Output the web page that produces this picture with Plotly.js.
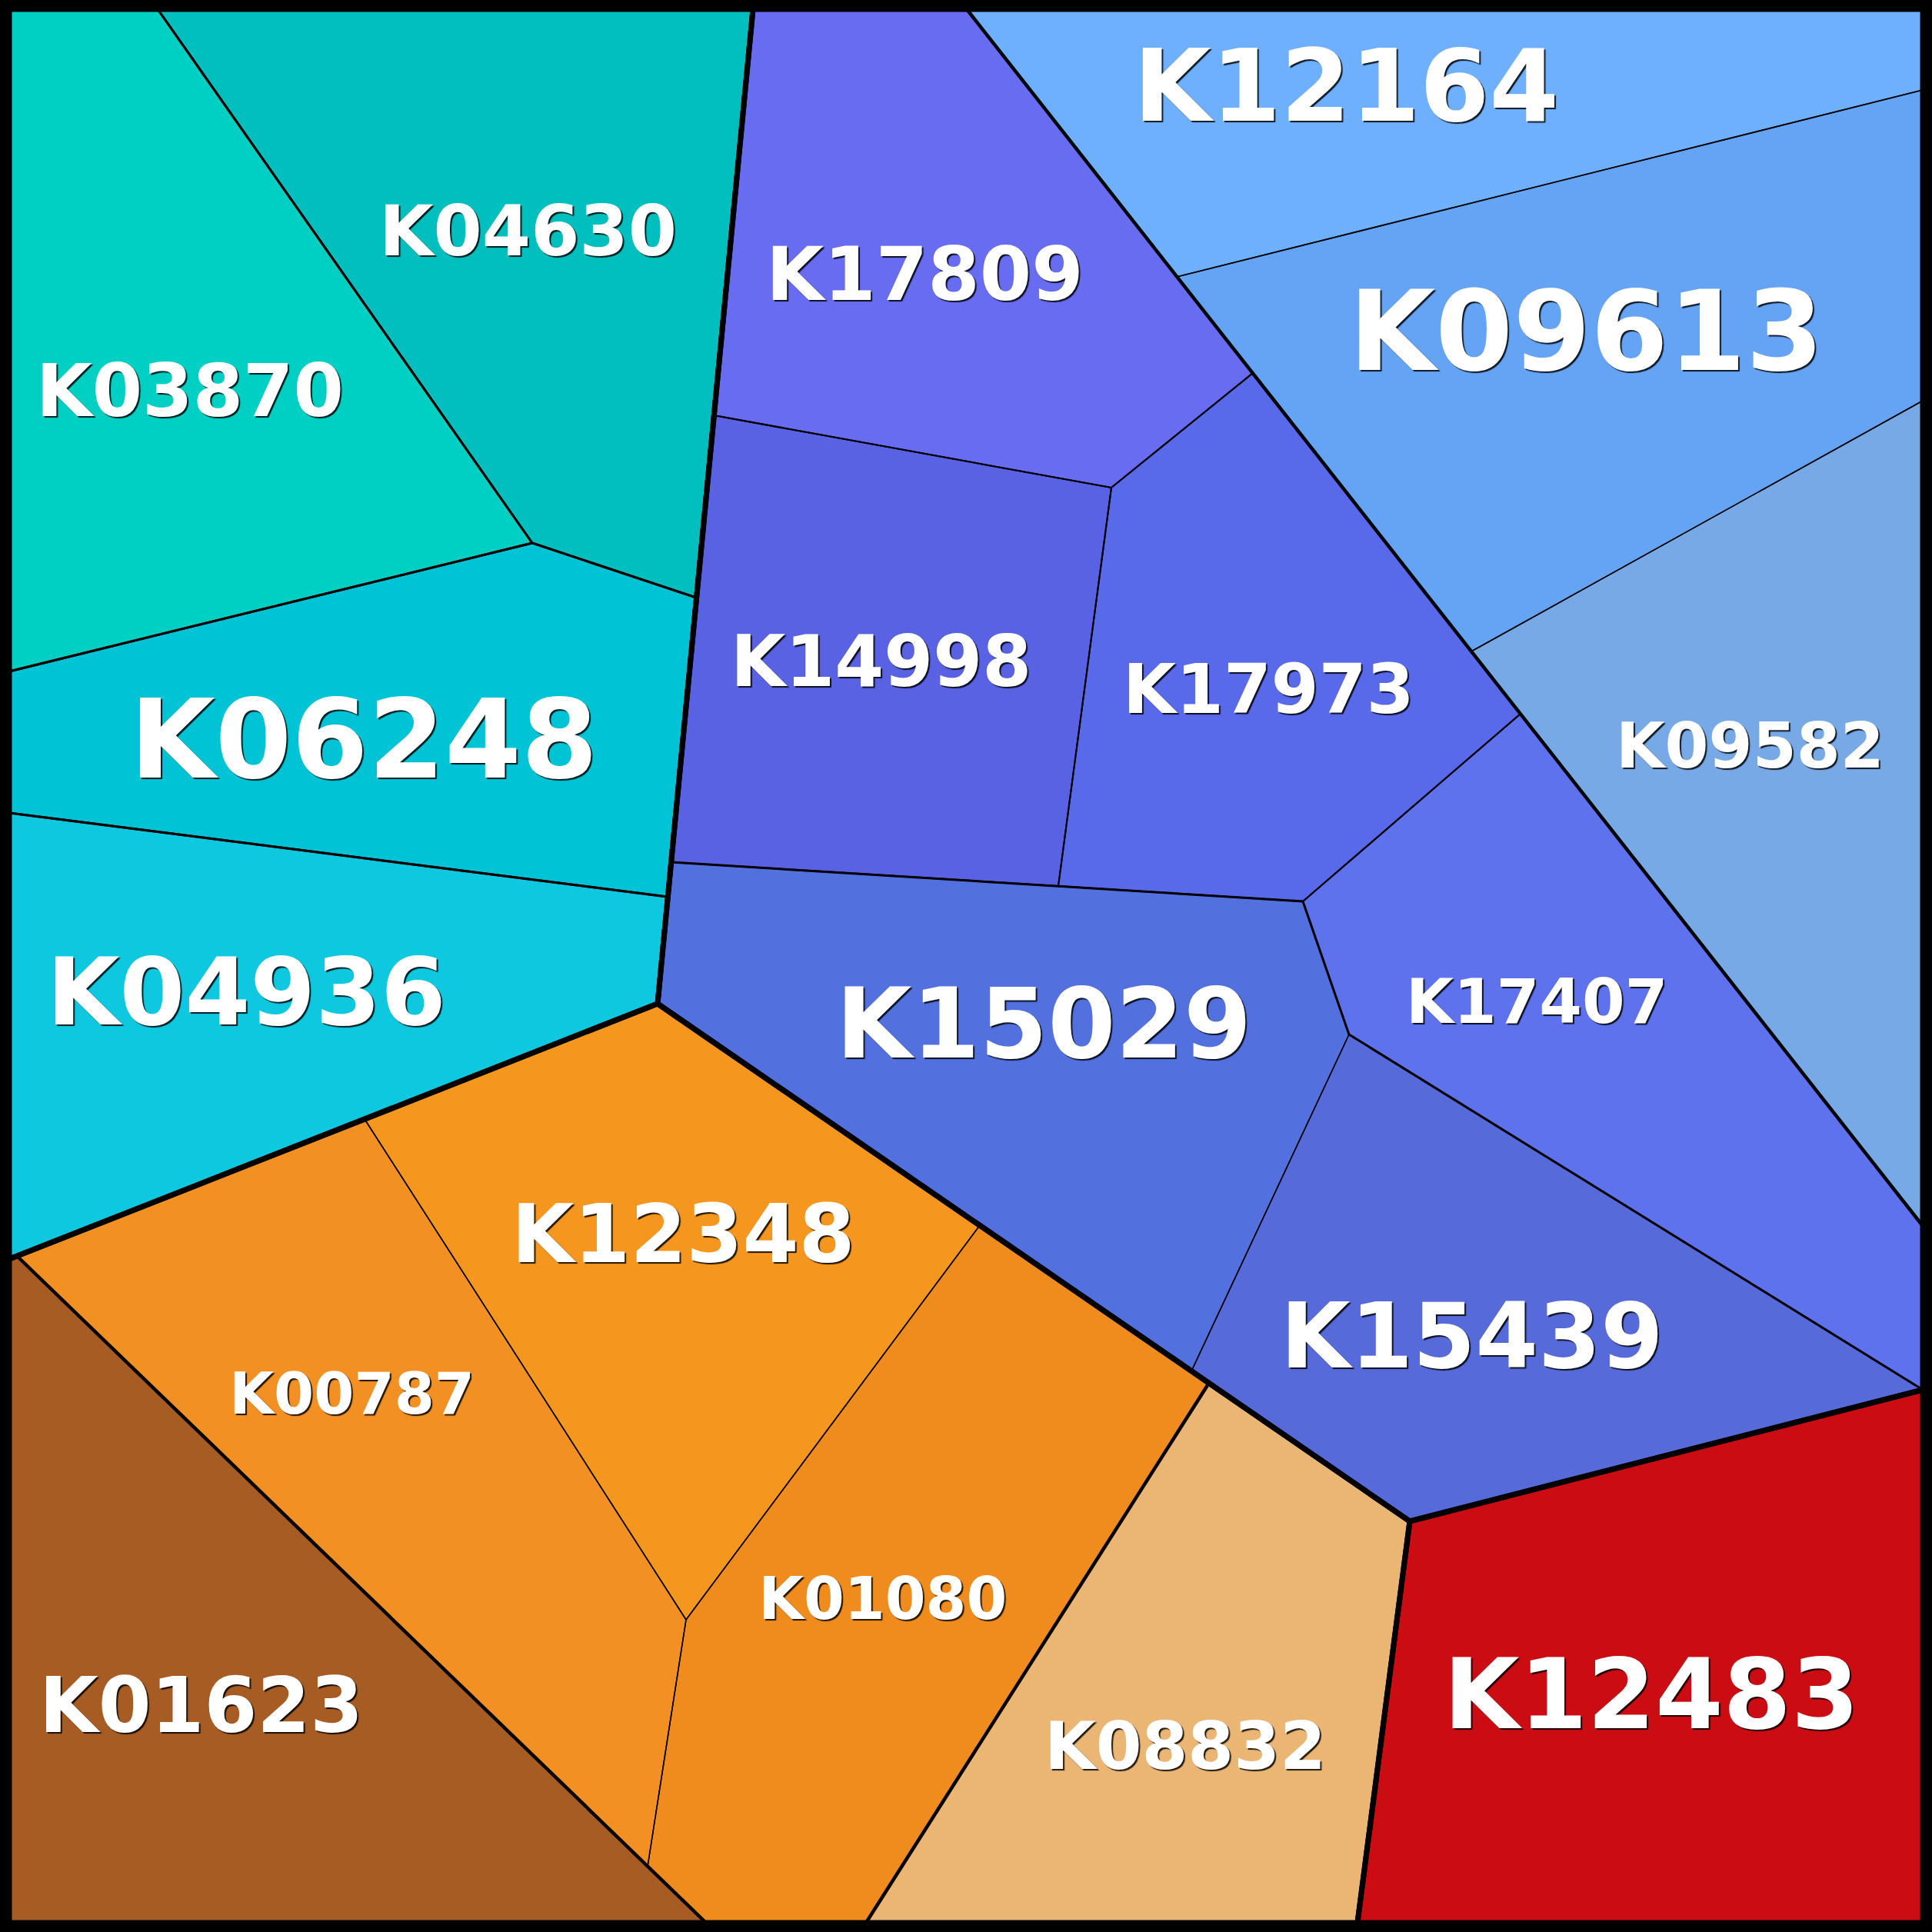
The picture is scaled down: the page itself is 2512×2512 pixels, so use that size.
<!DOCTYPE html>
<html>
<head>
<meta charset="utf-8">
<script src="https://cdn.plot.ly/plotly-3.0.1.min.js"></script>
<style>html,body{margin:0;padding:0;background:#fff;}#chart{width:2512px;height:2512px;}</style>
</head>
<body>
<div id="chart"></div>
<script>
// ---- Data: Voronoi treemap cells (KEGG orthologs) ----
const labels = ["K03870","K04630","K06248","K04936",
                "K12164","K09613","K09582",
                "K17809","K14998","K17973","K17407","K15029","K15439",
                "K01623","K00787","K12348","K01080","K08832",
                "K12483"];
const groups = ["teal","teal","teal","teal",
                "lightblue","lightblue","lightblue",
                "purpleA","purpleA","purpleA","purpleA","purpleB","purpleB",
                "brown","orange","orange","orange","tan",
                "red"];
const colors = ["#00d0c4","#00bfbe","#00c4d5","#0ec8e0",
                "#6fb0fe","#65a3f5","#77a9e7",
                "#676cf0","#5862e3","#5869ea","#5e72ee","#5271df","#566bd9",
                "#a65c22","#f39024","#f5971e","#f08c1e","#ebb574",
                "#cb0d13"];
// polygon vertices of each cell
const cellX = [
  [12,205,692,12],
  [205,979,905,692],
  [12,692,905,868,12],
  [12,868,855,12],
  [1257,2500,2500,1530],
  [1530,2500,2500,1913],
  [1913,2500,2500],
  [979,1257,1629,1445,928],
  [928,1445,1376,873],
  [1445,1629,1977,1694,1376],
  [1977,2500,2500,1754,1694],
  [873,1376,1694,1754,1549,855],
  [1754,2500,1833,1549],
  [12,22,918,12],
  [22,474,892,842],
  [474,855,1274,892],
  [892,1274,1572,1126,918,842],
  [1572,1833,1765,1126],
  [1833,2500,2500,1765]
];
const cellY = [
  [12,12,706,873],
  [12,12,777,706],
  [873,706,777,1166,1057],
  [1057,1166,1305,1637],
  [12,12,117,360],
  [360,117,521,847],
  [847,521,1594],
  [12,12,485,634,540],
  [540,634,1152,1121],
  [634,485,928,1172,1152],
  [928,1594,1807,1345,1172],
  [1121,1152,1172,1345,1783,1305],
  [1345,1807,1978,1783],
  [1637,1633,2500,2500],
  [1633,1455,2106,2427],
  [1455,1305,1593,2106],
  [2106,1593,1798,2500,2500,2427],
  [1798,1978,2500,2500],
  [1978,1807,2500,2500]
];
const labelX = [247,686,473,320, 1750,2062,2275, 1202,1145,1649,1998,1357,1914, 261,457,888,1147,1541, 2147];
const labelY = [508,300,961,1290, 112,430,969, 356,860,896,1302,1331,1737, 2217,1812,1605,2078,2270, 2203];
const labelSize = [94,91,143,122, 130,145,82, 97,92,89,80,127,117, 99,75,105,76,86, 127];

// group outlines (hierarchy levels)
const groupNames = ["purpleB","lightblue","orange","teal","blue","orangeAll","red"];
const groupX = [
  [873,1376,1694,1754,2500,1833,855],
  [1257,2500,2500],
  [22,474,855,1274,1572,1126,918],
  [12,979,855,12],
  [979,2500,2500,1833,855],
  [12,855,1833,1765,12],
  [1833,2500,2500,1765]
];
const groupY = [
  [1121,1152,1172,1345,1807,1978,1305],
  [12,12,1594],
  [1633,1455,1305,1593,1798,2500,2500],
  [12,12,1305,1637],
  [12,12,1807,1978,1305],
  [1637,1305,1978,2500,2500],
  [1978,1807,2500,2500]
];
const groupLevel = [3,2,2,1,1,1,1];

// ---- Build ----
const cellLineWidth = {teal:3, lightblue:1.5, purpleA:2, purpleB:1.5, brown:1.5, orange:1.5, tan:1.5, red:1.5};
const levelWidth = {1:7, 2:4.5, 3:3};
const close = a => a.concat([a[0]]);
const traces = [];
labels.forEach((lab,i)=>{
  traces.push({type:'scatter', mode:'lines', x:close(cellX[i]), y:close(cellY[i]),
    fill:'toself', fillcolor:colors[i], line:{width:0, color:colors[i]},
    hoverinfo:'skip', showlegend:false, name:lab});
});
labels.forEach((lab,i)=>{
  traces.push({type:'scatter', mode:'lines', x:close(cellX[i]), y:close(cellY[i]),
    line:{width:cellLineWidth[groups[i]], color:'#000'},
    hoverinfo:'skip', showlegend:false});
});
[3,2,1].forEach(lv=>{
  groupNames.forEach((g,j)=>{
    if(groupLevel[j]!==lv) return;
    traces.push({type:'scatter', mode:'lines', x:close(groupX[j]), y:close(groupY[j]),
      line:{width:levelWidth[lv], color:'#000', shape:'linear'},
      hoverinfo:'skip', showlegend:false});
  });
});

const annotations = labels.map((lab,i)=>({
  x:labelX[i], y:labelY[i], xref:'x', yref:'y', text:lab, showarrow:false,
  xanchor:'center', yanchor:'middle',
  font:{family:'DejaVu Sans', size:labelSize[i], color:'#ffffff', weight:'bold',
        shadow:'2px 2px 1px rgba(0,0,0,0.85)'}
}));

const layout = {
  width:2512, height:2512,
  margin:{l:0,r:0,t:0,b:0,pad:0},
  paper_bgcolor:'#ffffff', plot_bgcolor:'#ffffff',
  xaxis:{range:[0,2512], visible:false, fixedrange:true},
  yaxis:{range:[2512,0], visible:false, fixedrange:true},
  showlegend:false,
  annotations:annotations,
  shapes:[{type:'rect', xref:'x', yref:'y', x0:6, y0:6, x1:2506, y1:2506,
    line:{color:'#000', width:12}, fillcolor:'rgba(0,0,0,0)', layer:'above'}]
};
Plotly.newPlot('chart', traces, layout, {displayModeBar:false, staticPlot:true});
</script>
</body>
</html>
